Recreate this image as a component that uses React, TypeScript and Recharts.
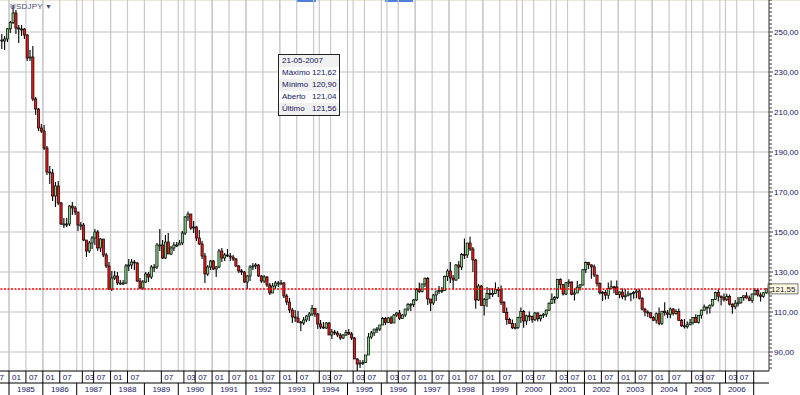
import React from "react";
import {
  Bar,
  CartesianGrid,
  ComposedChart,
  ReferenceLine,
  XAxis,
  YAxis,
} from "recharts";

// monthly USD/JPY, Oct 1984 .. May 2007 (one line per year)
const firstOpen = 246.0;
const closes = [
  245.5, 246.5, 251.6,
  254.8, 259.5, 252, 251.5, 251.5, 248.5, 237, 237.5, 216.5, 211.5, 202, 200.5,
  192, 180, 179.5, 168, 173, 164.5, 154, 154, 154, 163, 162, 160,
  153.5, 153.5, 146, 140.5, 144.5, 147, 150, 142, 146.5, 138.5, 133, 121.5,
  127, 128, 124.5, 124.5, 124.5, 133, 133.5, 135, 134.5, 125.5, 122, 125,
  129, 127.5, 132.5, 132.5, 143.5, 143.5, 137, 145, 139, 142, 143.5, 143.5,
  144.5, 149.5, 157.5, 159, 152, 152.5, 147, 144, 138, 129, 132.5, 135.5,
  131.5, 132.5, 140.5, 137, 138.5, 138, 137.5, 136.5, 133, 130.5, 130, 125,
  128, 132.5, 133, 133.5, 128, 125.5, 127.5, 123.5, 119.5, 123, 124.5, 124.5,
  124.5, 118, 115, 111, 107.5, 107, 105, 104.5, 106, 108, 109, 111.8,
  109, 104, 102.5, 102, 104.5, 98.5, 100, 99.5, 98.5, 97, 98.5, 99.8,
  99, 97, 86.5, 84, 84.5, 84.7, 88.5, 97.5, 99.5, 101.5, 101.5, 103.5,
  106.8, 104.8, 107, 104.5, 108.5, 109.5, 106.8, 108.5, 111.5, 113.8, 113.8, 116,
  121.2, 120.3, 124, 126.8, 116.5, 114.5, 118.5, 120.5, 120.8, 120.8, 127.8, 130.5,
  127, 126, 133.5, 132.5, 138.8, 138.5, 144.5, 141.5, 136, 116, 123, 113.2,
  116.3, 119.3, 118.7, 119.3, 121.3, 121.1, 114.8, 109.8, 106.2, 104.2, 102.1, 102.2,
  107.3, 110.3, 105.5, 108.1, 107.7, 106.1, 109.5, 106.6, 108.2, 108.9, 110.9, 114.4,
  116.4, 117.3, 126.3, 123.7, 119, 124.6, 125, 118.9, 119.5, 122.4, 123.5, 131.1,
  134.7, 133.6, 132.6, 128.5, 124.2, 119.6, 119.8, 118.4, 121.8, 122.6, 122.5, 118.8,
  120, 117.6, 118.1, 119, 119.4, 119.8, 120.5, 116.9, 111.4, 110, 109.6, 107.2,
  105.9, 109.1, 104.2, 110.4, 109.6, 108.8, 111.5, 109.3, 110.2, 105.8, 103.1, 102.6,
  103.6, 104.6, 107.2, 104.8, 108.4, 110.9, 112.5, 112, 113.4, 116.3, 119.8, 117.9,
  117.2, 116.1, 117.8, 113.9, 112.6, 114.4, 114.6, 117.3, 118.1, 117, 115.8, 119,
  120.7, 118.5, 117.8, 119.6, 121.55,
];
const highs = [
  249, 248, 252,
  255.5, 263.6, 261, 253.5, 253.5, 252, 249, 241, 243, 217.5, 212, 204,
  203.5, 193, 183, 181.5, 175, 175.5, 165, 157, 157, 163.5, 165, 163,
  160, 155, 154.5, 146, 145.5, 148, 151.5, 151, 147, 146.5, 139.5, 135,
  130.5, 130.5, 130, 126, 126, 134, 136.5, 136.5, 136, 135, 127, 126,
  130, 130, 133.5, 134, 144.5, 151.5, 146, 148.5, 149.5, 143, 145, 145,
  146, 150.5, 158, 160.3, 159, 155.5, 153, 151, 145.5, 139.5, 133.5, 136,
  136, 133, 141.5, 142, 139.5, 141.5, 139.5, 138.5, 137, 133.5, 131.5, 130.5,
  128.5, 133.5, 134.5, 134.5, 134, 128.5, 128.5, 128, 124.5, 124.5, 125.5, 125.5,
  126, 125, 119, 117, 112, 111, 110.5, 105.5, 107.5, 108.5, 110, 113.5,
  112, 109.5, 106, 105, 105, 105, 101.5, 101, 100.5, 99.5, 99, 101,
  101.5, 100, 97.5, 87, 86, 86, 88.5, 99.5, 100.5, 101, 102.5, 103,
  107.5, 107.5, 107.5, 108, 109, 110, 111, 109, 111.5, 114.5, 114.5, 116.5,
  122, 124.8, 124.2, 127.2, 127.5, 116.5, 119, 120.5, 123, 122.5, 128.3, 131.5,
  135, 128.5, 134, 135.5, 139.5, 146.8, 144.5, 147.6, 142.5, 136.5, 124, 123.5,
  117, 122.5, 122, 122, 124.8, 122.5, 123.3, 115.5, 112.2, 107.1, 106.2, 104.5,
  107.6, 112.2, 111, 108.7, 110.2, 108.2, 110, 109.9, 108.8, 109.5, 111.3, 114.8,
  119.2, 118, 126.6, 126.9, 123.8, 125, 126.4, 125.2, 121.8, 125.5, 124, 131.5,
  135.2, 135, 133.8, 133.7, 128.5, 124.8, 120.5, 121.1, 124.8, 125.7, 123, 125.7,
  120.3, 121.8, 121.5, 120.6, 119.5, 120.5, 121.4, 121.5, 117.4, 112.1, 110.9, 109.9,
  107.9, 109.7, 112.2, 110.5, 114.9, 111, 112.3, 112, 111.4, 111.8, 106.5, 106.5,
  105.2, 106.5, 107.5, 108.9, 108.5, 111.3, 113.7, 112.5, 113.7, 116.4, 120.2, 121.4,
  118.2, 119.3, 119.1, 118.7, 114.4, 116, 117.5, 117.5, 118.3, 119.9, 118.3, 119.2,
  121.9, 121.8, 119.8, 120, 121.8,
];
const lows = [
  241.5, 241, 245,
  249.5, 254, 249, 244.5, 248, 246.5, 235.5, 235.5, 215.5, 208.5, 200.5, 199.5,
  191, 178.5, 174, 165.5, 162.5, 163.5, 153.5, 152, 152.5, 153, 158.5, 158.5,
  150.5, 151, 145.5, 137.5, 139.5, 141.5, 143.5, 140.5, 140, 137.5, 132, 121,
  120.5, 126, 123.5, 123.5, 123.5, 124, 130.5, 131.5, 131, 125, 121.5, 121,
  124.5, 125, 126.5, 130, 131.5, 140.5, 136.5, 136.5, 139, 138.5, 140.5, 142.5,
  143.5, 143.5, 148.5, 155.5, 151, 149.5, 145.5, 143.5, 136.5, 124.5, 128, 131,
  131, 127.5, 132, 135, 135.5, 137.5, 135.5, 135.5, 132.5, 129.5, 128.5, 124.5,
  121.5, 125.5, 131, 131.5, 127.5, 124.5, 124.5, 122.5, 118.5, 119.5, 121.5, 122.5,
  123.5, 117, 113.5, 109.5, 104.5, 105, 104.5, 100.5, 103.5, 105, 105.5, 108,
  107.5, 101.5, 101.5, 101.5, 101.5, 98.5, 96.5, 98.5, 97.5, 96, 96.5, 98,
  98.5, 96, 86.5, 79.7, 82, 83.5, 84.5, 88.5, 96.5, 98, 99.5, 100.5,
  103.5, 103.5, 104.5, 104, 104.5, 107.5, 106, 106.5, 107.5, 110.5, 110.5, 112.5,
  115.5, 119.5, 119.8, 122.5, 113.5, 110.5, 113.5, 115.5, 119, 119.5, 120.5, 125.5,
  124.5, 121.5, 125.5, 126.5, 131, 136.5, 137, 140.5, 130, 111.6, 115.5, 113,
  108.3, 112.5, 116.5, 117.5, 119, 117.5, 113.5, 109.7, 103.6, 104, 101.5, 101.3,
  101.5, 104.5, 102.1, 103.5, 105.5, 104.6, 105.5, 105.3, 105.3, 107, 107.5, 110.5,
  114, 114.2, 116.5, 121.3, 118.2, 118.5, 122.5, 118.4, 115.8, 119.5, 120.8, 123.3,
  129.5, 131.5, 126.6, 127.5, 122.8, 118.8, 115.5, 116.2, 116.5, 121.5, 119.4, 118.6,
  116.9, 116.4, 115.8, 117.9, 115.4, 116.6, 116.9, 116.3, 110.8, 107.9, 107.5, 106.7,
  105.5, 104.2, 103.4, 103.5, 108.1, 106.9, 106.9, 108.3, 108.6, 105.6, 102.5, 101.8,
  101.7, 103.4, 103.8, 104.6, 104.2, 106.6, 110.6, 108.9, 109.3, 112.8, 116.1, 115.2,
  113.4, 115.2, 115.5, 113.3, 109.1, 111.4, 112.8, 114.1, 115.6, 116.8, 115.4, 114.5,
  118.3, 117.8, 115.2, 117.1, 119.1,
];

// x-axis rows: [year, month] of the labelled boxes, and the years
const monthTicks: [number, number][] = [
  [1984, 7],
  [1985, 1], [1985, 7], [1986, 1], [1986, 7], [1987, 3], [1987, 7],
  [1988, 1], [1988, 7], [1989, 7], [1990, 3], [1990, 7], [1991, 1], [1991, 7],
  [1992, 1], [1992, 7], [1993, 1], [1993, 7], [1994, 3], [1994, 7],
  [1995, 3], [1995, 7], [1996, 3], [1996, 7], [1997, 1], [1997, 7],
  [1998, 1], [1998, 7], [1999, 1], [1999, 7], [2000, 3], [2000, 7],
  [2001, 3], [2001, 7], [2002, 1], [2002, 7], [2003, 1], [2003, 7],
  [2004, 1], [2004, 7], [2005, 3], [2005, 7], [2006, 3], [2006, 7],
];
const years = [
  1985, 1986, 1987, 1988, 1989, 1990, 1991, 1992, 1993, 1994, 1995,
  1996, 1997, 1998, 1999, 2000, 2001, 2002, 2003, 2004, 2005, 2006,
];
const lastYearEdge = 2007;
const priceGrid = [90, 110, 130, 150, 170, 190, 210, 230, 250];
const lastPrice = 121.55;
const tipRows = [
  ["21-05-2007", ""],
  ["Máximo", "121,62"],
  ["Mínimo", "120,90"],
  ["Aberto", "121,04"],
  ["Último", "121,56"],
];

const T0 = 1984.734;
const T1 = 2007.452;
const Y0 = 80.5;
const Y1 = 266;
const INK = "#12125e";
const FONT = "'Liberation Sans', Arial, sans-serif";

const data = closes.map((c, i) => {
  const m = 9 + i; // months since Jan 1984
  return {
    t: 1984 + Math.floor(m / 12) + ((m % 12) + 0.5) / 12,
    open: i === 0 ? firstOpen : closes[i - 1],
    close: c,
    high: highs[i],
    low: lows[i],
    range: [lows[i], highs[i]],
  };
});

const monthValues = monthTicks.map(([y, m]) => y + (m - 1) / 12);
const yearValues = years.flatMap((y) => [y, y + 0.5]).concat([lastYearEdge]);
const priceTicks: number[] = [];
for (let v = 82; v <= 266; v += 2) priceTicks.push(v);

const fmt = (v: number) => v.toFixed(2).replace(".", ",");

function Candle(props: any) {
  const { x, y, width, height, payload } = props;
  if (!payload || x == null) return null;
  const { open, close, high, low } = payload;
  const top = Math.min(y, y + height);
  const h = Math.abs(height);
  const py = (v: number) => (high === low ? top : top + ((high - v) / (high - low)) * h);
  const cx = x + width / 2;
  const up = close >= open;
  const bTop = py(Math.max(open, close));
  const bBot = py(Math.min(open, close));
  return (
    <g>
      <line x1={cx} x2={cx} y1={top} y2={top + h} stroke="#000" strokeWidth={1.1} />
      <rect
        x={cx - 1.1}
        y={bTop}
        width={2.2}
        height={Math.max(1, bBot - bTop)}
        fill={up ? "#86d486" : "#f21818"}
        stroke="#000"
        strokeWidth={0.7}
      />
    </g>
  );
}

function MonthTick(props: any) {
  const { x, y, payload } = props;
  const v = payload.value as number;
  const m = Math.round((v - Math.floor(v)) * 12) + 1;
  const label = v >= lastYearEdge ? "" : m < 10 ? "0" + m : String(m);
  return (
    <g>
      <line x1={x} x2={x} y1={y} y2={y + 12} stroke="#000" strokeWidth={1} />
      <text x={x + 3} y={y + 9} fontSize={8} fill={INK} fontFamily={FONT}>
        {label}
      </text>
    </g>
  );
}

function YearTick(props: any) {
  const { x, y, payload } = props;
  const v = payload.value as number;
  if (Number.isInteger(v)) {
    return <line x1={x} x2={x} y1={y} y2={y + 12} stroke="#000" strokeWidth={1} />;
  }
  return (
    <text x={x} y={y + 9} fontSize={8} fill={INK} fontFamily={FONT} textAnchor="middle">
      {Math.floor(v)}
    </text>
  );
}

function PriceTick(props: any) {
  const { x, y, payload } = props;
  const v = payload.value as number;
  const major = (v - 10) % 20 === 0;
  return (
    <g>
      <line x1={x} x2={x + (major ? 4 : 3)} y1={y} y2={y} stroke="#333" strokeWidth={1} />
      {major && (
        <text x={x + 5} y={y + 3} fontSize={8} fill={INK} fontFamily={FONT}>
          {fmt(v)}
        </text>
      )}
    </g>
  );
}

function PriceTag(props: any) {
  const vb = props.viewBox;
  if (!vb) return null;
  const left = vb.x + vb.width - 1;
  return (
    <g>
      <rect x={left} y={vb.y - 5} width={30} height={10} fill="#ffffe0" stroke="#555" strokeWidth={0.8} />
      <text x={left + 3} y={vb.y + 3} fontSize={8} fill="#2a0a3a" fontFamily={FONT}>
        {fmt(lastPrice)}
      </text>
    </g>
  );
}

export default function App() {
  return (
    <div style={{ position: "relative", width: 800, height: 395, background: "#fff", fontFamily: FONT }}>
      <style>{"body{margin:0}"}</style>
      <div style={{ position: "absolute", left: 0, top: 0, width: 800, height: 1, background: "#ece7d6" }} />
      <div style={{ position: "absolute", left: 296, top: 0, width: 20, height: 2, background: "#4f7fd6" }} />
      <div style={{ position: "absolute", left: 385, top: 0, width: 28, height: 2, background: "#4f7fd6" }} />
      <ComposedChart width={800} height={395} data={data} margin={{ top: 0, right: 0, bottom: 0, left: 0 }}>
        <CartesianGrid vertical={false} horizontalValues={priceGrid} stroke="#d6d6d6" strokeWidth={1.3} />
        <CartesianGrid
          horizontal={false}
          verticalValues={[...monthValues, ...years, lastYearEdge]}
          stroke="#c9c9c9"
          strokeWidth={1.2}
        />
        <XAxis
          xAxisId={0}
          type="number"
          dataKey="t"
          domain={[T0, T1]}
          allowDataOverflow
          ticks={[...monthValues, lastYearEdge]}
          interval={0}
          tick={<MonthTick />}
          tickLine={false}
          tickSize={0}
          tickMargin={0}
          height={12}
          axisLine={{ stroke: "#000" }}
        />
        <XAxis
          xAxisId="yr"
          type="number"
          dataKey="t"
          domain={[T0, T1]}
          allowDataOverflow
          ticks={yearValues}
          interval={0}
          tick={<YearTick />}
          tickLine={false}
          tickSize={0}
          tickMargin={0}
          height={12}
          axisLine={{ stroke: "#000" }}
        />
        <YAxis
          orientation="right"
          type="number"
          domain={[Y0, Y1]}
          allowDataOverflow
          ticks={priceTicks}
          interval={0}
          tick={<PriceTick />}
          tickLine={false}
          tickSize={0}
          tickMargin={0}
          width={31}
          axisLine={{ stroke: "#333" }}
        />
        <Bar dataKey="range" barSize={3} shape={<Candle />} isAnimationActive={false} />
        <ReferenceLine
          y={lastPrice}
          stroke="#ff0000"
          strokeWidth={1.5}
          strokeDasharray="2 1.5"
          label={<PriceTag />}
        />
      </ComposedChart>
      <div
        style={{
          position: "absolute",
          left: 10,
          top: 2,
          fontSize: 8,
          color: "#4a4a7a",
          letterSpacing: 0.2,
        }}
      >
        USDJPY <span style={{ fontSize: 7 }}>▼</span>
      </div>
      <div
        style={{
          position: "absolute",
          left: 278,
          top: 54,
          width: 60,
          border: "1.5px solid #222",
          background: "#fff",
          fontSize: 8,
          color: INK,
          lineHeight: "12px",
        }}
      >
        {tipRows.map(([k, v], i) => (
          <div key={k} style={{ height: 12, paddingLeft: 3, background: i % 2 === 0 ? "#f0f0f0" : "#fff", position: "relative" }}>
            {k}
            {v && <span style={{ position: "absolute", left: 33 }}>{v}</span>}
          </div>
        ))}
      </div>
    </div>
  );
}
